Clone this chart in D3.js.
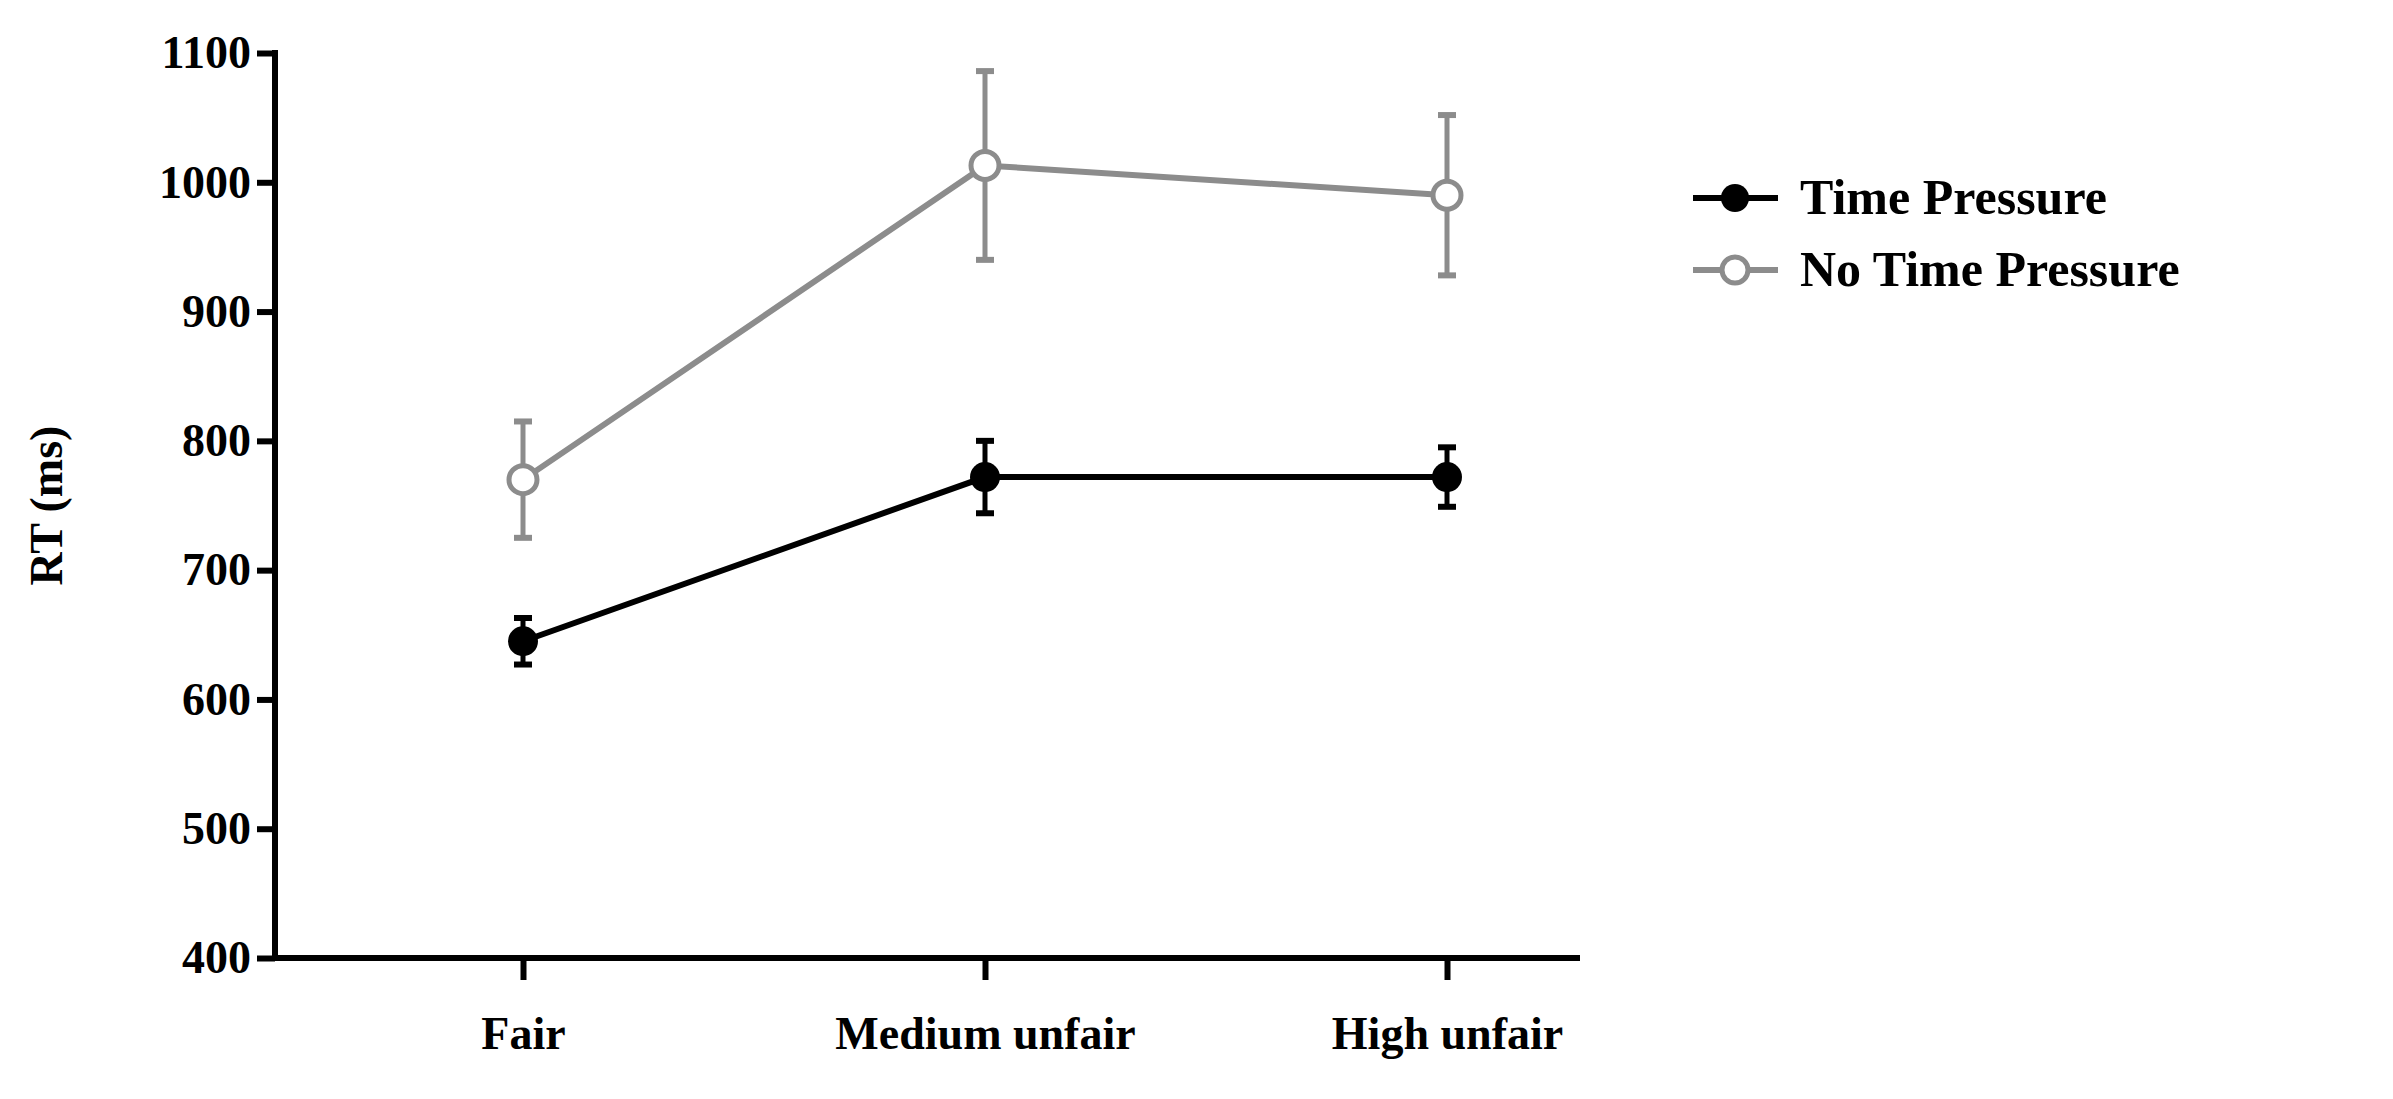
<!DOCTYPE html>
<html><head><meta charset="utf-8">
<script src="https://cdn.jsdelivr.net/npm/d3@7"></script>
<style>body{margin:0;background:#fff}svg{font-family:"Liberation Serif","Times New Roman",serif;font-weight:bold}</style>
</head><body><svg id="chart" width="2393" height="1099"></svg>
<script>
// data
var categories = ["Fair", "Medium unfair", "High unfair"];
var tpMean = [645, 772, 772];
var tpErr = [18, 28, 23];
var ntpMean = [770, 1013, 990];
var ntpErr = [45, 73, 62];
var yTicks = [400, 500, 600, 700, 800, 900, 1000, 1100];

var svg = d3.select("#chart");
var plotLeft = 275, plotRight = 1580, plotTop = 53, plotBottom = 958;

var x = d3.scalePoint().domain(categories).range([523, 1447]);
var y = d3.scaleLinear().domain([400, 1100]).range([plotBottom, plotTop]);

// y axis
var ya = svg.append("g").attr("transform", "translate(" + plotLeft + ",0)")
    .call(d3.axisLeft(y).tickValues(yTicks).tickFormat(d3.format("d")).tickSize(18).tickPadding(6));
ya.attr("font-family", null).attr("font-size", 46);
ya.select(".domain").attr("stroke-width", 6).attr("d", "M0," + (plotTop - 3) + "V" + (plotBottom + 3));
ya.selectAll(".tick line").attr("stroke-width", 6);
ya.selectAll("text").attr("fill", "#000");

// x axis
var xa = svg.append("g").attr("transform", "translate(0," + plotBottom + ")")
    .call(d3.axisBottom(x).tickSize(22).tickPadding(36));
xa.attr("font-family", null).attr("font-size", 46);
xa.select(".domain").attr("stroke-width", 6).attr("d", "M" + (plotLeft - 3) + ",0H" + plotRight);
xa.selectAll(".tick line").attr("stroke-width", 6);
xa.selectAll("text").attr("fill", "#000");

svg.append("text").attr("transform", "translate(62," + ((plotTop + plotBottom) / 2) + ") rotate(-90)")
    .attr("text-anchor", "middle").attr("font-size", 46).text("RT (ms)");

function drawSeries(mean, err, color, filled) {
    var g = svg.append("g");
    var line = d3.line().x(function (d, i) { return x(categories[i]); }).y(function (d) { return y(d); });
    g.append("path").datum(mean).attr("d", line).attr("fill", "none").attr("stroke", color).attr("stroke-width", 6);
    mean.forEach(function (m, i) {
        var cx = x(categories[i]);
        g.append("line").attr("x1", cx).attr("x2", cx).attr("y1", y(m - err[i])).attr("y2", y(m + err[i]))
            .attr("stroke", color).attr("stroke-width", 5);
        [m - err[i], m + err[i]].forEach(function (v) {
            g.append("line").attr("x1", cx - 9).attr("x2", cx + 9).attr("y1", y(v)).attr("y2", y(v))
                .attr("stroke", color).attr("stroke-width", 6);
        });
        g.append("circle").attr("cx", cx).attr("cy", y(m)).attr("r", filled ? 15 : 14)
            .attr("fill", filled ? color : "#fff").attr("stroke", color).attr("stroke-width", filled ? 0 : 5);
    });
}
drawSeries(ntpMean, ntpErr, "#8c8c8c", false);
drawSeries(tpMean, tpErr, "#000", true);

// legend
var legend = [["Time Pressure", "#000", true], ["No Time Pressure", "#8c8c8c", false]];
legend.forEach(function (l, i) {
    var ly = 198 + i * 72;
    var g = svg.append("g");
    g.append("line").attr("x1", 1693).attr("x2", 1778).attr("y1", ly).attr("y2", ly).attr("stroke", l[1]).attr("stroke-width", 6);
    g.append("circle").attr("cx", 1735).attr("cy", ly).attr("r", l[2] ? 14 : 13)
        .attr("fill", l[2] ? l[1] : "#fff").attr("stroke", l[1]).attr("stroke-width", l[2] ? 0 : 5);
    g.append("text").attr("x", 1800).attr("y", ly + 16).attr("font-size", 50).text(l[0]);
});
</script></body></html>
